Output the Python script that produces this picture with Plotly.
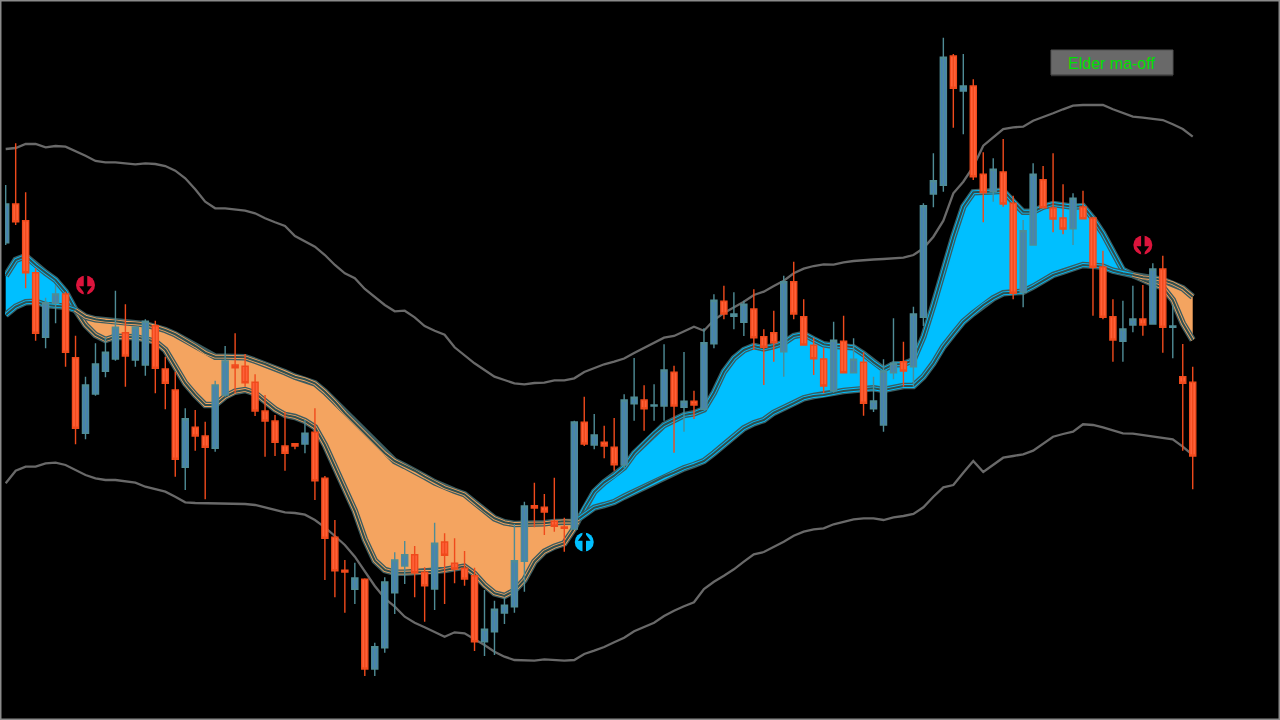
import plotly.graph_objects as go

WIDTH, HEIGHT = 1280, 720
LEFT = 5
BAR0, BAR_STEP = 5.7, 9.975

# candles (y axis runs downward, no scale shown)
bar_dir = list(
    "BRRRBBRRBBBBRBBRRRBRRBBRRRRRRR"
    "BRRRRBRBBBBRRBRRRRBBBBBRRRRBRB"
    "RRBBRBBRBRBBRBBRRRBRRRRBRBRBBB"
    "RBBBBRBRRBRRBBRRRBRRRRBBRBRBRR"
)

wick_top = [185, 143.3, 192.3, 268.3, 297.7, 285, 291.7, 335.7, 376.7, 343.3, 336.7, 290.7, 304.3, 326.7, 319.3,
            320.7, 356.7, 371.7, 408.3, 410, 421.7, 380.7, 346, 333.3, 354, 374.3, 395, 415, 411.7, 443.5,
            420, 408.3, 476, 520, 560, 562.7, 578.3, 642.7, 577.3, 552.3, 541, 546, 567.3, 522.7, 533.3,
            538.3, 551, 567.7, 590, 600.7, 597.3, 524, 501.7, 482.7, 494, 477.7, 517.7, 420.7, 396.7, 414,
            425.7, 418, 394.3, 358, 385.3, 384.3, 344.3, 365.7, 352, 390.7, 328.3, 294.3, 285.7, 292.3, 300.7,
            289.3, 329.3, 310.7, 275.7, 261.7, 299.3, 337.7, 347.7, 321.7, 315.7, 338.3, 352.3, 376.7, 359.3, 318.3,
            341.7, 306.7, 203.3, 153.3, 37.7, 54, 54, 79.3, 152.3, 158.3, 139, 195.7, 220, 163.3, 166,
            153.3, 184.3, 193.3, 190.7, 216.7, 250.7, 299.3, 300.7, 285.7, 285, 263.3, 255.7, 305, 344, 366.7]
body_top = [204, 204, 220.7, 272.7, 302.7, 294, 294, 357.7, 385, 364, 352.3, 327.3, 332.7, 327.3, 321.3,
            325.7, 369, 390, 418.7, 427.3, 436, 385, 361, 365, 366.3, 382.3, 411, 421, 446, 443.7,
            433.3, 432.3, 478.3, 537.3, 570.3, 578, 579.3, 646.7, 582, 560, 554.7, 554.7, 572.3, 543.3, 542,
            563.3, 568.3, 575.7, 629.3, 609.3, 605.3, 560.7, 506, 505.7, 507.3, 521.3, 527, 422, 422.3, 435,
            442.3, 447.3, 400, 397.3, 400, 405, 370, 372.3, 401.3, 401.3, 342.7, 300.3, 301.3, 314, 304.3,
            309, 336.7, 332.7, 281.7, 281.7, 316.7, 345.3, 359, 340.3, 341.3, 359.3, 362.3, 401, 371, 363.3,
            361.7, 314, 205.7, 180.7, 57.3, 56, 86, 86, 174.3, 169.3, 172, 203.3, 230.7, 174.3, 179.7,
            208, 218, 198.3, 207, 218, 267, 316.7, 329, 319, 319, 269, 269, 326, 376.7, 382.3]
body_bottom = [242.7, 221.7, 272.7, 333.3, 337.3, 303.3, 352.3, 428.3, 433.3, 394, 371.3, 359, 356, 360, 365,
               368.3, 383.3, 459.3, 467.3, 436, 447.3, 448.3, 395, 367.7, 382.7, 411, 421, 442.3, 453.3, 446,
               444, 480.7, 538.3, 570.7, 572, 589.3, 669, 669, 647.7, 592.7, 566, 572.7, 585.7, 589, 555.3,
               569, 579, 641.7, 641.7, 631.7, 613, 606.7, 561.3, 508, 512, 526.3, 528.3, 529, 444, 445,
               446, 464.7, 465, 403.7, 408.7, 406, 406, 406, 407.3, 405, 409.3, 343.7, 314, 316.3, 322.3,
               337.7, 347.3, 342.7, 351.7, 314, 345, 358.7, 386, 390.7, 372.7, 372.7, 403.3, 408.7, 425, 372.7,
               371, 366.7, 317.3, 194, 185.3, 88.3, 91, 176.7, 192.7, 191.7, 204, 293.3, 292.3, 245, 207.7,
               219, 229, 228.7, 218.7, 267.3, 317.3, 340, 341.3, 325, 325, 324, 327.3, 327.3, 383.3, 456]
wick_bottom = [245, 225, 288.3, 340.7, 348.3, 323.3, 366.7, 444.3, 439.3, 395.7, 377.3, 360.7, 386.7, 366.7, 375.7,
               393.3, 409.3, 476.7, 490, 450.7, 499.3, 451.7, 396.7, 393.3, 386.7, 416, 456.7, 456, 470.7, 449.3,
               453.3, 500, 580, 597.3, 612.7, 604, 676, 676, 652.7, 614, 584, 597.3, 621.7, 610, 604,
               583.3, 585.7, 651, 656, 655, 624, 612.7, 591.7, 527.3, 535, 531.7, 551.7, 530, 446, 449.3,
               458.3, 470.7, 468.3, 420.7, 430.7, 420.7, 420.7, 452.7, 431.7, 419, 410, 348.3, 319.3, 329.3, 336,
               350, 385, 361.7, 376.7, 319.3, 345.7, 375, 393.3, 392.7, 373.3, 373.3, 415.7, 412, 431.7, 379.3,
               386.7, 386.7, 326, 207.3, 191.7, 127.7, 134.3, 180, 222.3, 201.7, 206.7, 299.3, 307.3, 245, 208.3,
               232.3, 234.3, 245, 219.3, 315.7, 319.3, 361.7, 361.7, 332.3, 335.7, 324.3, 352.7, 358.3, 450.7, 489.3]

# outer envelope
env_upper = [149, 148, 144, 144, 147.3, 146, 146.7, 151, 155.7, 161, 162.3, 162.3, 163.3, 164.3, 163.3,
             164, 166, 170.7, 178.3, 189.3, 201.7, 208.3, 208.3, 209.3, 210.7, 213.3, 218.3, 222.3, 226, 236,
             241.7, 246.7, 255, 265, 273.3, 278.3, 289, 296.7, 305, 311.3, 310.7, 317.3, 326, 330.7, 334.7,
             347.3, 355.7, 363.3, 370, 376.7, 380, 383.3, 384.3, 383, 382.7, 380.3, 380.3, 378.3, 372, 368.3,
             364.3, 361.7, 358.5, 353, 348, 343, 337.7, 336, 331.7, 326.7, 330.7, 320, 313, 307.7, 301.7,
             295, 291.7, 286, 280.7, 273.3, 268.7, 266, 264.3, 264.7, 262.3, 261, 260, 259.5, 259, 258.7,
             257.7, 255, 248.3, 236.7, 220.7, 193.3, 181.7, 166.7, 145.7, 137.3, 129, 127.3, 126.7, 120.7, 117.3,
             113.3, 109.3, 105.7, 105, 104.7, 105, 109.3, 112.7, 116.7, 117.7, 118.7, 120, 124.3, 129, 136.7]
env_lower = [483.3, 470.7, 466.7, 466.7, 463.3, 462.7, 465, 470, 475, 478.3, 480, 480, 481, 482.7, 486.7,
             489.3, 491.7, 496.7, 502.3, 503, 503.3, 503.3, 503.3, 504, 504, 505, 507.3, 510, 512.3, 513,
             514.7, 520, 527.3, 536, 545, 556.7, 571.7, 586, 598.3, 606.7, 616.7, 622.7, 627.3, 632.3, 636.7,
             632.3, 633.3, 639.3, 645, 651.7, 656.7, 660, 660.7, 660.7, 659.3, 659.7, 660.7, 660, 654, 650.7,
             647, 642.3, 637.7, 631.3, 627.3, 622.7, 616, 610.7, 606.3, 602.3, 589, 581.7, 575.7, 569.3, 561.7,
             554.3, 552, 547, 541.7, 535.7, 531.7, 529.3, 528.3, 524.3, 521.7, 519.3, 518.3, 518.3, 520, 517.3,
             516, 514, 507.3, 496.7, 487.3, 485, 472.7, 461, 472, 465, 457.7, 456, 454.3, 450.7, 443.3,
             436.7, 434, 431.7, 424.3, 425, 427.3, 430, 433.3, 433.7, 435, 436, 437.3, 439.3, 446.7, 455]

# the two averages that make up the cloud
ma_fast = [275.7, 260, 256, 265, 272.7, 280, 291.7, 310, 325, 335, 340, 336.7, 336.7, 337.3, 339.3,
           341.7, 350, 366.7, 383.3, 395, 405, 405, 396.7, 391.7, 390, 393.3, 401.7, 409.3, 415, 417,
           421, 427.3, 445, 467.3, 489.3, 511, 539.3, 560.7, 570, 572.7, 572.7, 572.3, 571.7, 571.7, 570,
           568.3, 566.7, 574, 585, 593.3, 596, 590.7, 580, 561.7, 551.7, 546.7, 543.3, 528.3, 508.3, 491.7,
           482.3, 475.7, 467.3, 453.3, 443.3, 433.3, 425, 420, 415, 413.3, 409.3, 392.7, 371.7, 358.3, 350,
           346, 348.3, 346, 342.7, 336, 334, 339.3, 344.3, 345.7, 346, 347.3, 354, 362.3, 369.3, 364.3,
           364, 360, 336.7, 305, 270, 236.7, 206.7, 192.3, 191.7, 191.7, 190.7, 201.7, 211.7, 211.7, 206.7,
           204, 205, 206.7, 206, 218.3, 233.3, 251.7, 270, 275, 280, 284, 287.3, 300, 323.3, 340]
ma_slow = [315, 306.7, 302.3, 301.7, 305, 306, 306.7, 310, 316.7, 319.3, 320.7, 321.3, 322.7, 323.3, 324.3,
           326.7, 330, 334.3, 340, 346, 352.7, 356.7, 356.7, 357.3, 357.3, 360.7, 364, 368.3, 372.3, 376.7,
           379.3, 383.3, 391.7, 401.7, 413.3, 423.3, 433.3, 442.7, 453.3, 461, 466, 470.7, 476.7, 482.3, 487.3,
           490.7, 494.3, 502.7, 511, 518.3, 522.3, 524, 523.7, 523.7, 523.3, 522, 521.3, 521.7, 515, 507.7,
           505, 502, 496.7, 491.7, 486.7, 481.7, 476.7, 472.7, 468.3, 465, 461, 453.3, 445, 436.7, 428.3,
           423.3, 420, 412.7, 408.3, 403.3, 398.3, 396, 395, 392.7, 391, 390, 389.3, 388.3, 390, 388.3,
           386, 386, 376.7, 363.3, 346.7, 334, 321.7, 313.3, 305, 298.3, 293.3, 292.7, 291.7, 286.7, 280.7,
           275, 271.7, 268.3, 265, 265.7, 266.7, 270.7, 273.3, 275, 277.3, 278.3, 280, 283.3, 288.3, 296.7]

# signal icons: bar, level, direction
signal_bar = [8, 58, 114]
signal_level = [285, 542, 245]
signal_dir = ["down", "up", "down"]

button_label = "Elder ma-off"

BLUE_CLOUD = "#00BFFF"
ORANGE_CLOUD = "#F4A460"
HALO = "#3B5C60"
CORE = "#2F4F4F"
GREY = "#696969"
RED_BODY, RED_EDGE = "#FF6038", "#F04A1C"
BLUE_BODY, BLUE_EDGE = "#4682B4", "#4F8C96"

bars = list(range(len(body_top)))


def split_cloud():
    # cut the cloud where the two averages cross, so each piece gets one colour
    pieces = []
    xs, fast, slow = [0], [ma_fast[0]], [ma_slow[0]]
    for i in bars[1:]:
        d0 = ma_fast[i - 1] - ma_slow[i - 1]
        d1 = ma_fast[i] - ma_slow[i]
        if d0 * d1 < 0:
            t = d0 / (d0 - d1)
            xc = i - 1 + t
            yc = ma_fast[i - 1] + t * (ma_fast[i] - ma_fast[i - 1])
            pieces.append((xs + [xc], fast + [yc], slow + [yc]))
            xs, fast, slow = [xc, i], [yc, ma_fast[i]], [yc, ma_slow[i]]
        elif d1 == 0 and d0 != 0:
            pieces.append((xs + [i], fast + [ma_fast[i]], slow + [ma_slow[i]]))
            xs, fast, slow = [i], [ma_fast[i]], [ma_slow[i]]
        else:
            xs.append(i)
            fast.append(ma_fast[i])
            slow.append(ma_slow[i])
    pieces.append((xs, fast, slow))
    return pieces


def px_x(x):
    return (x - LEFT) / (WIDTH - LEFT)


def px_y(y):
    return 1 - y / HEIGHT


fig = go.Figure()

for x_vals, fast, slow in split_cloud():
    colour = BLUE_CLOUD if sum(fast) < sum(slow) else ORANGE_CLOUD
    fig.add_trace(go.Scatter(x=x_vals, y=slow, mode="lines", line=dict(width=0), hoverinfo="skip"))
    fig.add_trace(go.Scatter(x=x_vals, y=fast, mode="lines", line=dict(width=0), fill="tonexty",
                             fillcolor=colour, hoverinfo="skip"))
    for series in (fast, slow):
        for col, w in ((HALO, 6.5), (colour, 3.8), (CORE, 2.1)):
            fig.add_trace(go.Scatter(x=x_vals, y=series, mode="lines", line=dict(color=col, width=w),
                                     hoverinfo="skip"))

for env in (env_upper, env_lower):
    fig.add_trace(go.Scatter(x=bars, y=env, mode="lines", line=dict(color=GREY, width=2.3), hoverinfo="skip"))

# y runs downward here, so a red bar closes at the larger number
opens = [b if d == "B" else t for d, t, b in zip(bar_dir, body_top, body_bottom)]
closes = [t if d == "B" else b for d, t, b in zip(bar_dir, body_top, body_bottom)]
# second axis pair, because plotly otherwise paints candles under every scatter
fig.add_trace(go.Candlestick(
    x=bars, open=opens, high=wick_top, low=wick_bottom, close=closes, xaxis="x2", yaxis="y2",
    increasing=dict(line=dict(color=RED_EDGE, width=1.4), fillcolor=RED_BODY),
    decreasing=dict(line=dict(color=BLUE_EDGE, width=1.4), fillcolor=BLUE_BODY),
    whiskerwidth=0, hoverinfo="skip",
))

for bar, level, way in zip(signal_bar, signal_level, signal_dir):
    colour = "#DC143C" if way == "down" else "#00BFFF"
    head = level + 4 if way == "down" else level - 4
    fig.add_trace(go.Scatter(x=[bar], y=[level], mode="markers", hoverinfo="skip", xaxis="x2", yaxis="y2",
                             marker=dict(symbol="circle", size=19, color=colour, line_width=0)))
    fig.add_trace(go.Scatter(x=[bar], y=[level], mode="markers", hoverinfo="skip", xaxis="x2", yaxis="y2",
                             marker=dict(symbol="line-ns", size=14, line=dict(color="#000000", width=3.5))))
    fig.add_trace(go.Scatter(x=[bar], y=[head], mode="markers", hoverinfo="skip", xaxis="x2", yaxis="y2",
                             marker=dict(symbol="triangle-" + way, size=11, color="#000000", line_width=0)))

x_range = [(LEFT - BAR0) / BAR_STEP, (WIDTH - BAR0) / BAR_STEP]
fig.update_layout(
    width=WIDTH, height=HEIGHT,
    margin=dict(l=LEFT, r=0, t=0, b=0),
    paper_bgcolor="#000000", plot_bgcolor="#000000",
    showlegend=False, boxgap=0.3, boxgroupgap=0.13,
    xaxis=dict(visible=False, range=x_range),
    yaxis=dict(visible=False, range=[HEIGHT, 0]),
    xaxis2=dict(visible=False, range=x_range, overlaying="x", rangeslider=dict(visible=False)),
    yaxis2=dict(visible=False, range=[HEIGHT, 0], overlaying="y"),
    shapes=[
        dict(type="rect", xref="paper", yref="paper", x0=px_x(0), x1=1, y0=0, y1=1,
             line=dict(color="#8A8A8A", width=3)),
        dict(type="rect", xref="paper", yref="paper", x0=px_x(1051), x1=px_x(1173), y0=px_y(50), y1=px_y(75),
             fillcolor="#696969", line=dict(color="#505050", width=1)),
        dict(type="line", xref="paper", yref="paper", x0=px_x(1051), x1=px_x(1173), y0=px_y(75.5), y1=px_y(75.5),
             line=dict(color="#333333", width=1.5)),
    ],
    annotations=[dict(xref="paper", yref="paper", x=px_x(1111.5), y=px_y(63), text=button_label, showarrow=False,
                      xanchor="center", yanchor="middle",
                      font=dict(family="Liberation Sans", size=16, color="#00E000"))],
)

fig.write_html("out.html", config=dict(displayModeBar=False),
               post_script="document.body.style.margin='0';document.body.style.background='#000';")
